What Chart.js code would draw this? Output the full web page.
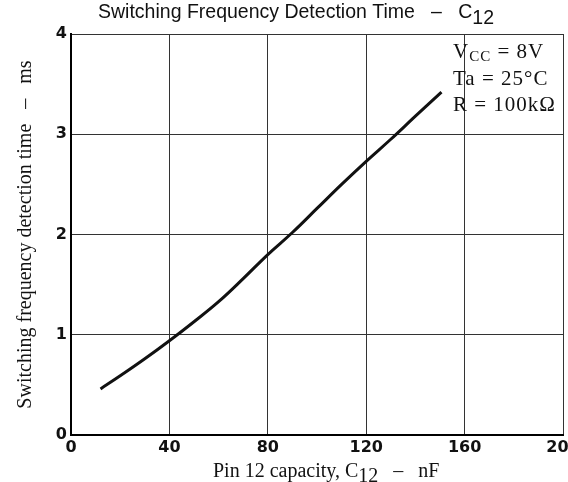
<!DOCTYPE html>
<html>
<head>
<meta charset="utf-8">
<script src="https://cdn.jsdelivr.net/npm/chart.js@4/dist/chart.umd.min.js"></script>
<style>
  html, body { margin: 0; padding: 0; background: #fff; }
  #wrap { width: 568px; height: 482px; position: relative; }
</style>
</head>
<body>
<div id="wrap"><canvas id="c" width="568" height="482"></canvas></div>
<script>
// values (x = nF, y = ms)
const capacityNF = [12, 20, 30, 40, 50, 60, 70, 80, 90, 100, 110, 120, 130, 140, 150.6];
const detectionMs = [0.46, 0.59, 0.76, 0.94, 1.13, 1.33, 1.56, 1.80, 2.02, 2.26, 2.50, 2.73, 2.95, 3.18, 3.42];
const xTicks = [0, 40, 80, 120, 160, 200];
const yTicks = [0, 1, 2, 3, 4];
const noteLines = [
  [['V', 0], ['CC', 1], [' = 8V', 0]],
  [['Ta = 25°C', 0]],
  [['R = 100kΩ', 0]]
];

// draws text pieces, sub pieces pushed down
function drawParts(ctx, parts, x, y, font, subFont, subDrop) {
  let cx = x;
  parts.forEach(function(p) {
    ctx.font = p[1] ? subFont : font;
    ctx.fillText(p[0], cx, p[1] ? y + subDrop : y);
    cx += ctx.measureText(p[0]).width;
  });
  return cx;
}
function partsWidth(ctx, parts, font, subFont) {
  let w = 0;
  parts.forEach(function(p) {
    ctx.font = p[1] ? subFont : font;
    w += ctx.measureText(p[0]).width;
  });
  return w;
}

const textPlugin = {
  id: 'texts',
  afterDraw: function(chart) {
    const ctx = chart.ctx;
    ctx.save();
    ctx.fillStyle = '#111';
    ctx.textBaseline = 'alphabetic';
    ctx.textAlign = 'left';

    // title
    let tFont = '19.5px "Liberation Sans"';
    let tParts = [['Switching Frequency Detection Time   \u2013   C', 0], ['12', 1]];
    let w = partsWidth(ctx, tParts, tFont, tFont);
    drawParts(ctx, tParts, 296 - w / 2, 18, tFont, tFont, 6);

    // x axis title
    let xFont = '20px "Liberation Serif"';
    let xParts = [['Pin 12 capacity, C', 0], ['12', 1], ['   \u2013   nF', 0]];
    drawParts(ctx, xParts, 213, 477, xFont, xFont, 5);

    // conditions box
    let nFont = '21px "Liberation Serif"';
    let nSub = '15px "Liberation Serif"';
    let base = [58, 85, 111];
    ctx.letterSpacing = '1px';
    noteLines.forEach(function(line, i) {
      drawParts(ctx, line, 453, base[i], nFont, nSub, 3);
    });
    ctx.restore();
  }
};

new Chart(document.getElementById('c'), {
  type: 'line',
  data: {
    datasets: [{
      data: capacityNF.map(function(x, i) { return {x: x, y: detectionMs[i]}; }),
      borderColor: '#111',
      borderWidth: 3,
      pointRadius: 0,
      tension: 0.4,
      fill: false
    }]
  },
  options: {
    responsive: false,
    animation: false,
    layout: { padding: { top: 34, right: 5, bottom: 0, left: 0 } },
    plugins: { legend: { display: false }, tooltip: { enabled: false } },
    scales: {
      x: {
        type: 'linear',
        min: 0, max: 200,
        afterBuildTicks: function(s) { s.ticks = xTicks.map(function(v) { return {value: v}; }); },
        afterFit: function(s) { s.height = 47; s.paddingLeft = 0; s.paddingRight = 0; },
        grid: { color: '#333', lineWidth: 1, tickLength: 0 },
        border: { color: '#000', width: 2 },
        ticks: {
          color: '#111', padding: 3, maxRotation: 0, autoSkip: false,
          font: { family: '"DejaVu Sans"', weight: 'bold', size: 16 }
        }
      },
      y: {
        min: 0, max: 4,
        afterBuildTicks: function(s) { s.ticks = yTicks.map(function(v) { return {value: v}; }); },
        afterFit: function(s) { s.width = 71; s.paddingTop = 0; s.paddingBottom = 0; },
        grid: { color: '#333', lineWidth: 1, tickLength: 0 },
        border: { color: '#000', width: 2 },
        ticks: {
          color: '#111', padding: 4,
          font: { family: '"DejaVu Sans"', weight: 'bold', size: 16 }
        },
        title: {
          display: true,
          text: 'Switching frequency detection time   \u2013   ms',
          color: '#111',
          padding: { top: 14, bottom: 0 },
          font: { family: '"Liberation Serif"', size: 20 }
        }
      }
    }
  },
  plugins: [textPlugin]
});
</script>
</body>
</html>
